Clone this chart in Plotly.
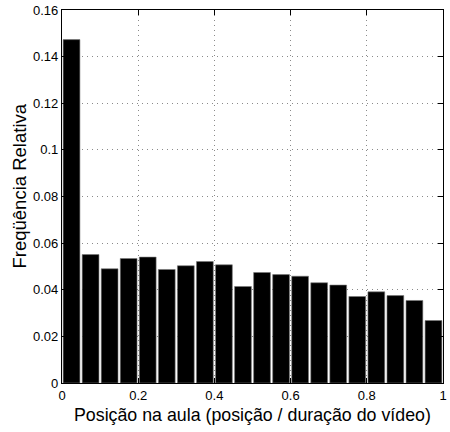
import plotly.graph_objects as go

bin_centers = [0.025 + 0.05 * i for i in range(20)]
freq = [0.1473, 0.0551, 0.0490, 0.0534, 0.0540, 0.0487, 0.0503, 0.0521, 0.0507, 0.0414,
        0.0474, 0.0465, 0.0458, 0.0430, 0.0420, 0.0371, 0.0391, 0.0375, 0.0354, 0.0268]
x_ticks = [0, 0.2, 0.4, 0.6, 0.8, 1.0]
x_tick_text = ["0", "0.2", "0.4", "0.6", "0.8", "1"]
y_ticks = [0, 0.02, 0.04, 0.06, 0.08, 0.10, 0.12, 0.14, 0.16]
y_tick_text = ["0", "0.02", "0.04", "0.06", "0.08", "0.1", "0.12", "0.14", "0.16"]
x_title = "Posição na aula (posição / duração do vídeo)"
y_title = "Freqüência Relativa"

fig = go.Figure(go.Bar(
    x=bin_centers, y=freq, width=0.044,
    marker=dict(color="black", line=dict(color="#777777", width=0.6)),
))

font_family = "Liberation Sans, Arial, sans-serif"
axis_common = dict(
    showline=True, linecolor="black", linewidth=1.3, mirror="ticks",
    ticks="inside", ticklen=5, tickcolor="black", tickwidth=1.2,
    showgrid=True, gridcolor="#8a8a8a", griddash="1px,4px", gridwidth=1,
    zeroline=False, ticklabeloverflow="allow",
    tickfont=dict(family=font_family, size=13, color="black"),
)

fig.update_layout(
    width=450, height=432,
    margin=dict(l=62, r=3, t=10, b=49),
    paper_bgcolor="white", plot_bgcolor="white",
    showlegend=False,
    xaxis=dict(range=[0, 1], tickvals=x_ticks, ticktext=x_tick_text, **axis_common),
    yaxis=dict(range=[0, 0.16], tickvals=y_ticks, ticktext=y_tick_text, **axis_common),
    annotations=[
        dict(text=x_title, xref="paper", yref="paper", x=0.5, y=-0.0858,
             xanchor="center", yanchor="middle", showarrow=False,
             font=dict(family=font_family, size=17.8, color="black")),
        dict(text=y_title, xref="paper", yref="paper", x=-0.1117, y=0.528,
             xanchor="center", yanchor="middle", showarrow=False, textangle=-90,
             font=dict(family=font_family, size=18.5, color="black")),
    ],
)

fig.write_html("out.html")
